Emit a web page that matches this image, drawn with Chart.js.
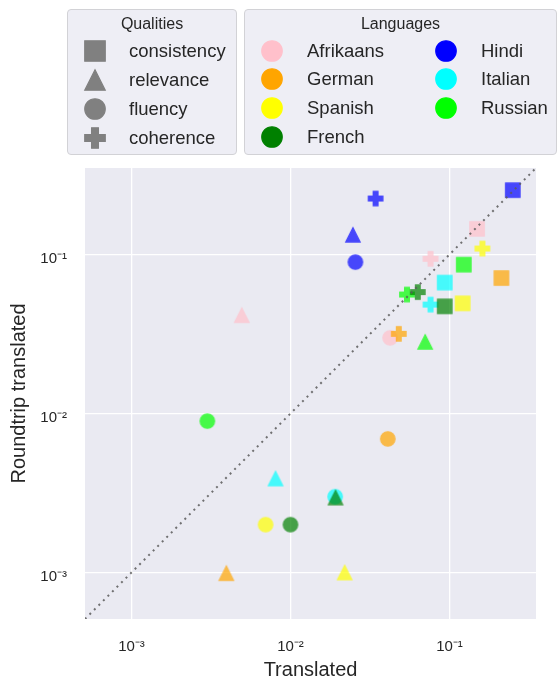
<!DOCTYPE html>
<html>
<head>
<meta charset="utf-8">
<script src="https://cdn.jsdelivr.net/npm/chart.js@4/dist/chart.umd.min.js"></script>
<style>
  html, body { margin: 0; padding: 0; background: #fff; }
  body { font-family: 'Liberation Sans', Arial, sans-serif; color: #262626; }
  #wrap { position: relative; width: 557px; height: 679px; overflow: hidden; }
  #chart { position: absolute; left: 0; top: 0; }
  .legend {
    position: absolute; box-sizing: border-box;
    background: rgba(234, 234, 242, 0.8);
    border: 1px solid #d2d2d6; border-radius: 4px;
  }
  .legend .title {
    position: absolute; left: 0; right: 0; top: 14px;
    transform: translateY(-50%); text-align: center;
    font-size: 16px; line-height: 1;
  }
  .legend .mark { position: absolute; transform: translate(-50%, -50%); }
  .legend .label {
    position: absolute; transform: translateY(-50%);
    font-size: 18.5px; line-height: 1; white-space: nowrap;
  }
</style>
</head>
<body>
<div id="wrap">
  <canvas id="chart" width="557" height="679"></canvas>
  <div class="legend" id="qualLegend" style="left:67px; top:9px; width:170px; height:146px;"></div>
  <div class="legend" id="langLegend" style="left:244px; top:9px; width:313px; height:146px;"></div>
</div>
<script>
const languages = ['Afrikaans', 'German', 'Spanish', 'French', 'Hindi', 'Italian', 'Russian'];
const langColors = ['#FFC0CB', '#FFA500', '#FFFF00', '#008000', '#0000FF', '#00FFFF', '#00FF00'];
const qualities = ['consistency', 'relevance', 'fluency', 'coherence'];
const qualShapes = ['square', 'triangle', 'circle', 'plus'];

// values per language, in the order of `languages`
const consistencyX = [0.149, 0.212, 0.121, 0.0933, 0.25, 0.0933, 0.123];
const consistencyY = [0.145, 0.0711, 0.0493, 0.0472, 0.254, 0.0666, 0.0863];
const relevanceX = [0.00494, 0.00395, 0.0219, 0.0192, 0.0247, 0.00805, 0.0703];
const relevanceY = [0.0415, 0.00099, 0.001, 0.00296, 0.133, 0.0039, 0.0282];
const fluencyX = [0.0423, 0.0409, 0.00697, 0.01, 0.0256, 0.0191, 0.003];
const fluencyY = [0.0299, 0.00692, 0.002, 0.002, 0.0896, 0.003, 0.00896];
const coherenceX = [0.076, 0.048, 0.161, 0.0632, 0.0343, 0.076, 0.054];
const coherenceY = [0.094, 0.0317, 0.109, 0.058, 0.225, 0.0484, 0.056];

const axisRange = [5.1e-4, 0.35];
const tickValues = [1e-3, 1e-2, 1e-1];
const tickLabels = ['10\u207B\u00B3', '10\u207B\u00B2', '10\u207B\u00B9'];

const seriesX = [consistencyX, relevanceX, fluencyX, coherenceX];
const seriesY = [consistencyY, relevanceY, fluencyY, coherenceY];

// marker drawn on a small canvas, used as pointStyle and in the legends
function makeMarker(shape, color, size, alpha) {
  const edge = 1.2;
  const dim = Math.ceil(size + edge + 2);
  const tmp = document.createElement('canvas');
  tmp.width = tmp.height = dim;
  const t = tmp.getContext('2d');
  const m = dim / 2, h = size / 2, a = size / 6;
  t.fillStyle = color;
  t.strokeStyle = color;
  t.lineWidth = edge;
  t.lineJoin = 'miter';
  t.beginPath();
  if (shape === 'square') {
    t.rect(m - h, m - h, size, size);
  } else if (shape === 'circle') {
    t.arc(m, m, h, 0, Math.PI * 2);
  } else if (shape === 'triangle') {
    t.moveTo(m, m - h); t.lineTo(m + h, m + h); t.lineTo(m - h, m + h); t.closePath();
  } else {
    const pts = [[-a, -h], [a, -h], [a, -a], [h, -a], [h, a], [a, a], [a, h], [-a, h], [-a, a], [-h, a], [-h, -a], [-a, -a]];
    pts.forEach((p, i) => i ? t.lineTo(m + p[0], m + p[1]) : t.moveTo(m + p[0], m + p[1]));
    t.closePath();
  }
  t.fill();
  t.stroke();
  if (alpha >= 1) return tmp;
  const c = document.createElement('canvas');
  c.width = c.height = dim;
  const g = c.getContext('2d');
  g.globalAlpha = alpha;
  g.drawImage(tmp, 0, 0);
  return c;
}

// legends (html)
function addItem(box, marker, x, y, textX, text) {
  marker.className = 'mark';
  marker.style.left = x + 'px';
  marker.style.top = y + 'px';
  box.appendChild(marker);
  const s = document.createElement('span');
  s.className = 'label';
  s.style.left = textX + 'px';
  s.style.top = y + 'px';
  s.textContent = text;
  box.appendChild(s);
}
function addTitle(box, text) {
  const t = document.createElement('div');
  t.className = 'title';
  t.textContent = text;
  box.appendChild(t);
}

const qualBox = document.getElementById('qualLegend');
addTitle(qualBox, 'Qualities');
qualities.forEach((q, i) => {
  addItem(qualBox, makeMarker(qualShapes[i], '#808080', 20.5, 1), 26.5, 41 + i * 28.9, 61, q);
});

const langBox = document.getElementById('langLegend');
addTitle(langBox, 'Languages');
languages.forEach((l, i) => {
  const col = i < 4 ? 0 : 1;
  const row = i < 4 ? i : i - 4;
  addItem(langBox, makeMarker('circle', langColors[i], 20.5, 1),
    col ? 201 : 26.5, 40.5 + row * 28.9, col ? 236 : 62, l);
});

// plot background
const plotBg = {
  id: 'plotBg',
  beforeDraw(chart) {
    const {ctx, chartArea: a} = chart;
    ctx.save();
    ctx.fillStyle = '#EAEAF2';
    ctx.fillRect(a.left, a.top, a.right - a.left, a.bottom - a.top);
    ctx.restore();
  }
};

// one dataset per quality; first dataset ends up on top
const drawOrder = [0, 3, 1, 2];
const datasets = [{
  type: 'line',
  data: [{x: axisRange[0], y: axisRange[0]}, {x: axisRange[1], y: axisRange[1]}],
  borderColor: 'rgba(90, 90, 90, 0.85)',
  borderWidth: 2,
  borderDash: [2, 4.4],
  pointRadius: 0,
  showLine: true,
  fill: false
}];
drawOrder.forEach(qi => {
  const idx = languages.map((l, i) => i).reverse();
  datasets.push({
    label: qualities[qi],
    data: idx.map(i => ({x: seriesX[qi][i], y: seriesY[qi][i]})),
    pointStyle: idx.map(i => makeMarker(qualShapes[qi], langColors[i], 14.5, 0.7)),
    pointRadius: 7
  });
});

const tickFont = {family: "'Liberation Sans', Arial, sans-serif", size: 15};
const titleFont = {family: "'Liberation Sans', Arial, sans-serif", size: 20, lineHeight: 0.9};

new Chart(document.getElementById('chart'), {
  type: 'scatter',
  data: {datasets: datasets},
  options: {
    responsive: false,
    animation: false,
    events: [],
    layout: {padding: {top: 168, right: 21, left: 0, bottom: 0}},
    plugins: {legend: {display: false}, tooltip: {enabled: false}},
    scales: {
      x: {
        type: 'logarithmic',
        min: axisRange[0],
        max: axisRange[1],
        afterBuildTicks: s => { s.ticks = tickValues.map(v => ({value: v})); },
        afterFit: s => { s.height = 60; },
        ticks: {
          callback: v => tickLabels[tickValues.indexOf(v)],
          font: tickFont, color: '#262626', padding: 19,
          maxRotation: 0, autoSkip: false
        },
        grid: {color: '#ffffff', lineWidth: 1.3, drawTicks: false},
        border: {display: false},
        title: {display: true, text: 'Translated', font: titleFont, color: '#262626', padding: 0}
      },
      y: {
        type: 'logarithmic',
        min: axisRange[0],
        max: axisRange[1],
        afterBuildTicks: s => { s.ticks = tickValues.map(v => ({value: v})); },
        afterFit: s => { s.width = 85; },
        ticks: {
          callback: v => tickLabels[tickValues.indexOf(v)],
          font: tickFont, color: '#262626', padding: 18,
          labelOffset: 4.5, autoSkip: false
        },
        grid: {color: '#ffffff', lineWidth: 1.3, drawTicks: false},
        border: {display: false},
        title: {display: true, text: 'Roundtrip translated', font: {family: "'Liberation Sans', Arial, sans-serif", size: 20, lineHeight: 1.2}, color: '#262626', padding: {top: 7.5}}
      }
    }
  },
  plugins: [plotBg]
});
</script>
</body>
</html>
